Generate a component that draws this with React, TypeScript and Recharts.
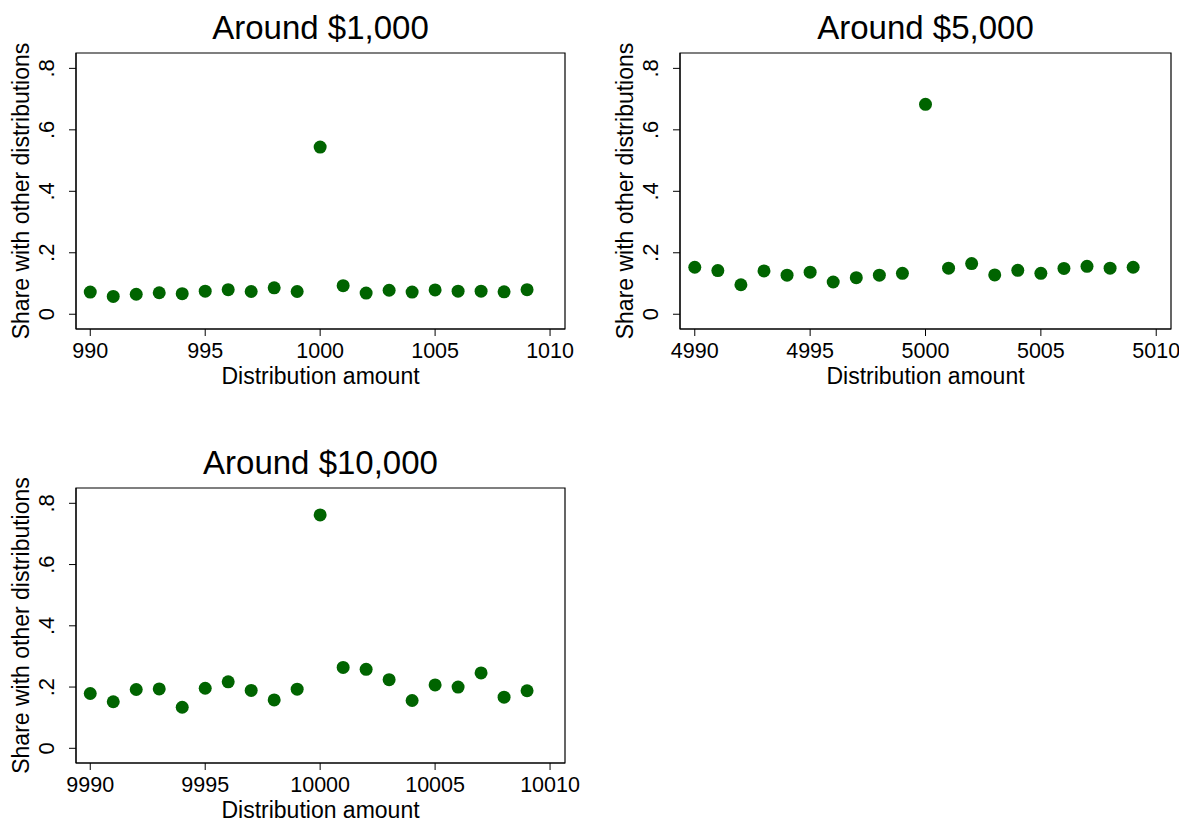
import React from "react";
import { ScatterChart, Scatter, XAxis, YAxis, ReferenceArea } from "recharts";

const FONT = '"Liberation Sans", Arial, Helvetica, sans-serif';
const GREEN = "#006400";

// Around $1,000
const amounts1k = [990, 991, 992, 993, 994, 995, 996, 997, 998, 999, 1000, 1001, 1002, 1003, 1004, 1005, 1006, 1007, 1008, 1009];
const shares1k = [0.072, 0.058, 0.065, 0.07, 0.067, 0.075, 0.08, 0.074, 0.086, 0.074, 0.544, 0.093, 0.069, 0.078, 0.072, 0.079, 0.075, 0.075, 0.073, 0.08];
const ticks1k = [990, 995, 1000, 1005, 1010];

// Around $5,000
const amounts5k = [4990, 4991, 4992, 4993, 4994, 4995, 4996, 4997, 4998, 4999, 5000, 5001, 5002, 5003, 5004, 5005, 5006, 5007, 5008, 5009];
const shares5k = [0.153, 0.142, 0.096, 0.141, 0.127, 0.137, 0.105, 0.119, 0.127, 0.133, 0.683, 0.15, 0.165, 0.128, 0.143, 0.133, 0.149, 0.156, 0.15, 0.153];
const ticks5k = [4990, 4995, 5000, 5005, 5010];

// Around $10,000
const amounts10k = [9990, 9991, 9992, 9993, 9994, 9995, 9996, 9997, 9998, 9999, 10000, 10001, 10002, 10003, 10004, 10005, 10006, 10007, 10008, 10009];
const shares10k = [0.179, 0.152, 0.192, 0.194, 0.134, 0.196, 0.217, 0.189, 0.158, 0.193, 0.762, 0.264, 0.258, 0.224, 0.156, 0.207, 0.2, 0.246, 0.167, 0.188];
const ticks10k = [9990, 9995, 10000, 10005, 10010];

const yTicks = [0, 0.2, 0.4, 0.6, 0.8];
const yDomain: [number, number] = [-0.048, 0.85];

const fmtY = (v: number) => (v === 0 ? "0" : String(v).replace(/^0/, ""));

const toRows = (xs: number[], ys: number[]) => xs.map((x, i) => ({ x, y: ys[i] }));

const panels = [
  { title: "Around $1,000", rows: toRows(amounts1k, shares1k), ticks: ticks1k, xDomain: [989.38, 1010.65], left: 0, top: 0, plotW: 489, plotH: 276 },
  { title: "Around $5,000", rows: toRows(amounts5k, shares5k), ticks: ticks5k, xDomain: [4989.36, 5010.64], left: 604, top: 0, plotW: 491, plotH: 276 },
  { title: "Around $10,000", rows: toRows(amounts10k, shares10k), ticks: ticks10k, xDomain: [9989.38, 10010.65], left: 0, top: 435, plotW: 489, plotH: 275 },
];

const M_TOP = 53;
const Y_W = 60;
const M_LEFT = 16;
const X_H = 50;

const YTick = (props: any) => {
  const { x, y, payload } = props;
  return (
    <text x={x} y={y} transform={`rotate(-90 ${x} ${y})`} textAnchor="middle" fontSize={22} fontFamily={FONT} fill="#000">
      {fmtY(payload.value)}
    </text>
  );
};

const Dot = (props: any) => <circle cx={props.cx} cy={props.cy} r={6.5} fill={GREEN} />;

const Panel = ({ p }: { p: (typeof panels)[number] }) => {
  const plotLeft = M_LEFT + Y_W;
  const w = plotLeft + p.plotW + 15;
  const h = M_TOP + p.plotH + X_H + 20;
  return (
    <div style={{ position: "absolute", left: p.left, top: p.top, width: w, height: h }}>
      <ScatterChart width={w} height={h} margin={{ top: M_TOP, left: M_LEFT, right: 15, bottom: 20 }}>
        <XAxis
          type="number"
          dataKey="x"
          domain={p.xDomain}
          ticks={p.ticks}
          allowDataOverflow
          height={X_H}
          tickSize={7}
          tickMargin={7}
          stroke="#000"
          tick={{ fontSize: 21.5, fill: "#000", fontFamily: FONT }}
        />
        <YAxis
          type="number"
          dataKey="y"
          domain={yDomain}
          ticks={yTicks}
          allowDataOverflow
          width={Y_W}
          tickSize={7}
          tickMargin={15}
          stroke="#000"
          tick={<YTick />}
        />
        {/* plot region outline */}
        <ReferenceArea
          x1={p.xDomain[0]}
          x2={p.xDomain[1]}
          y1={yDomain[0]}
          y2={yDomain[1]}
          fill="none"
          fillOpacity={0}
          stroke="#000"
          strokeWidth={1.2}
          ifOverflow="visible"
        />
        <Scatter data={p.rows} fill={GREEN} shape={<Dot />} isAnimationActive={false} />
      </ScatterChart>
      <svg width={w} height={h} style={{ position: "absolute", left: 0, top: 0, overflow: "visible", pointerEvents: "none" }}>
        <text x={plotLeft + p.plotW / 2} y={M_TOP - 14} textAnchor="middle" fontSize={33} fontFamily={FONT} fill="#000">
          {p.title}
        </text>
        <text x={plotLeft + p.plotW / 2} y={M_TOP + p.plotH + 55} textAnchor="middle" fontSize={23} fontFamily={FONT} fill="#000">
          Distribution amount
        </text>
        <text
          x={plotLeft - 47}
          y={M_TOP + p.plotH / 2}
          transform={`rotate(-90 ${plotLeft - 47} ${M_TOP + p.plotH / 2})`}
          textAnchor="middle"
          fontSize={23}
          fontFamily={FONT}
          fill="#000"
        >
          Share with other distributions
        </text>
      </svg>
    </div>
  );
};

export default function App() {
  return (
    <div style={{ position: "absolute", left: 0, top: 0, width: 1179, height: 821, background: "#fff", overflow: "hidden" }}>
      {panels.map((p) => (
        <Panel key={p.title} p={p} />
      ))}
    </div>
  );
}
